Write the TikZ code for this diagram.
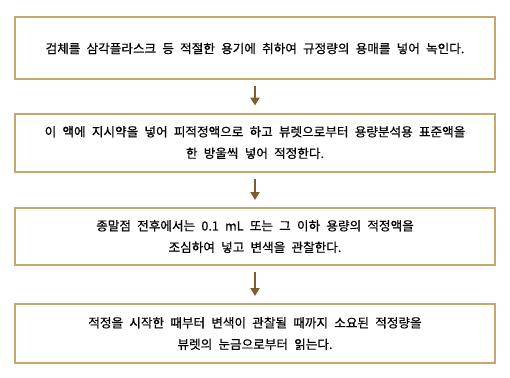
\documentclass[tikz,border=0pt]{standalone}
\usepackage{fontspec}
\setmainfont{Noto Sans CJK KR}[WordSpace=2.2, FakeBold=0.6]
\usepackage{tikz}
\usetikzlibrary{arrows.meta}

\begin{document}
\begin{tikzpicture}[x=1pt, y=-1pt,
    every node/.style={font=\fontsize{12.6}{21.5}\selectfont, text=black},
    stepbox/.style={draw=boxTan, line width=2pt, minimum width=480pt, minimum height=58pt, align=center, inner sep=0pt},
    flow/.style={draw=arrowBrown, line width=2pt, -{Triangle[width=9pt, length=8pt]}, shorten <=6pt, shorten >=7pt}]

    % Colores
    \definecolor{boxTan}{RGB}{198,168,110}     % Borde de las cajas
    \definecolor{arrowBrown}{RGB}{122,96,46}   % Flechas

    \useasboundingbox (0,0) rectangle (510,377);

    % Pasos del procedimiento
    \node[stepbox, minimum height=62pt] (paso1) at (255,48.5)
        {검체를 삼각플라스크 등 적절한 용기에 취하여 규정량의 용매를 넣어 녹인다.};
    \node[stepbox] (paso2) at (255,142.5)
        {이 액에 지시약을 넣어 피적정액으로 하고 뷰렛으로부터 용량분석용 표준액을\\한 방울씩 넣어 적정한다.};
    \node[stepbox, minimum height=57pt] (paso3) at (255,236.5)
        {종말점 전후에서는 0.1 mL 또는 그 이하 용량의 적정액을\\조심하여 넣고 변색을 관찰한다.};
    \node[stepbox, minimum height=59pt] (paso4) at (255,333.5)
        {적정을 시작한 때부터 변색이 관찰될 때까지 소요된 적정량을\\뷰렛의 눈금으로부터 읽는다.};

    % Flechas
    \draw[flow] (paso1) -- (paso2);
    \draw[flow] (paso2) -- (paso3);
    \draw[flow] (paso3) -- (paso4);

\end{tikzpicture}
\end{document}
